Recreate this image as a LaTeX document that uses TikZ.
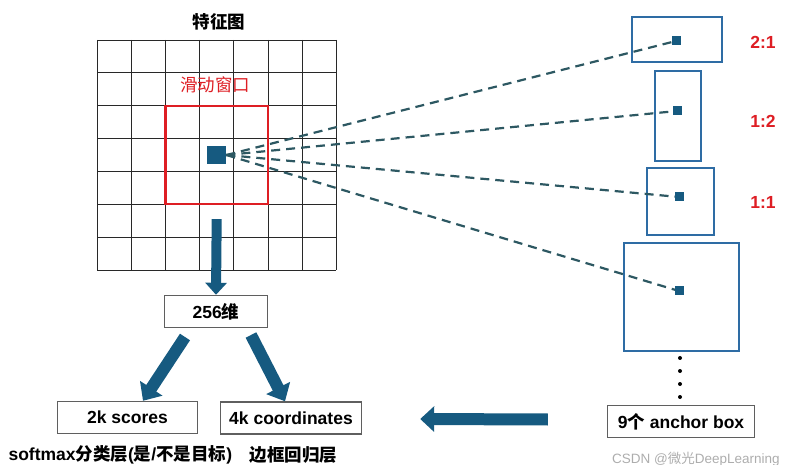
\documentclass[tikz,border=0pt]{standalone}
\usepackage{fontspec}
\setmainfont{Liberation Sans}
\newfontfamily\cjk{Noto Sans CJK SC}
\usepackage{tikz}
\usetikzlibrary{positioning}
\usetikzlibrary{arrows.meta}
\usetikzlibrary{calc}
\usepackage{xcolor}

\definecolor{arrowblue}{RGB}{22,90,128}
\definecolor{dashteal}{RGB}{45,88,98}
\definecolor{anchorblue}{RGB}{46,108,164}
\definecolor{ratiored}{RGB}{222,30,36}
\definecolor{boxgray}{RGB}{95,95,95}
\definecolor{gridgray}{RGB}{40,40,40}

\newcommand{\zh}[1]{{\cjk #1}}
\newcommand{\bigfont}{\fontsize{17.5}{20}\selectfont}

\begin{document}
\begin{tikzpicture}[
  x=1pt, y=-1pt,
  gridline/.style={draw=gridgray, line width=0.9pt},
  window/.style={draw=ratiored, line width=2.4pt},
  txtbox/.style={draw=boxgray, line width=1.4pt, fill=white, minimum height=32pt, inner sep=0pt, font=\bfseries\bigfont},
  anchorbox/.style={draw=anchorblue, line width=2.6pt, inner sep=0pt},
  centermark/.style={fill=arrowblue, inner sep=0pt, minimum size=9pt},
  ratio/.style={text=ratiored, font=\bfseries\bigfont},
  plain/.style={font=\bfseries\bigfont},
  fatarrow/.style={draw=arrowblue, line width=12pt},
  dashlink/.style={draw=dashteal, line width=2.2pt, dash pattern=on 9pt off 6pt},
  dot/.style={circle, fill=black, inner sep=0pt, minimum size=4pt}
]

\useasboundingbox (0,0) rectangle (804,465);

% Feature map: 7x7 grid with the sliding window
\node[plain] (title) at (219,22) {\zh{特征图}};
\begin{scope}[shift={(97,40)}, x=34.2pt, y=-32.86pt]
  \foreach \i in {0,...,7} {
    \draw[gridline] (\i,0) -- (\i,7);
    \draw[gridline] (0,\i) -- (7,\i);
  }
  \draw[window] (2,2) rectangle (5,5);
  \node[fill=arrowblue, inner sep=0pt, minimum width=19pt, minimum height=18pt] (ctr) at (3.5,3.5) {};
  \coordinate (dstart) at (3.5,5.45);
\end{scope}
\node[text=ratiored, font=\bigfont] (wlabel) at (215,85) {\zh{滑动窗口}};

% Anchor boxes with their ratios
\node[anchorbox, minimum width=90pt, minimum height=45pt] (b1) at (677,39.5) {};
\node[anchorbox, minimum width=46pt, minimum height=90pt] (b2) at (678,116) {};
\node[anchorbox, minimum width=67pt, minimum height=67pt] (b3) at (680.5,201.5) {};
\node[anchorbox, minimum width=115pt, minimum height=108pt] (b4) at (681.5,297) {};

\node[ratio] (r1) at (763,42) {2:1};
\node[ratio] (r2) at (763,121) {1:2};
\node[ratio] (r3) at (763,202) {1:1};

% Dashed links from the window centre to each anchor
\draw[dashlink] (ctr.east) -- (676,41) node[centermark] (a1) {};
\draw[dashlink] (ctr.east) -- (677,111) node[centermark] (a2) {};
\draw[dashlink] (ctr.east) -- (679,197) node[centermark] (a3) {};
\draw[dashlink] (ctr.east) -- (679,291) node[centermark] (a4) {};

% More anchors
\foreach \y in {358,371,384,397}
  \node[dot] at (680,\y) {};

% Boxes
\node[txtbox, minimum width=103pt] (dim) at (216,311.5) {256\zh{维}};
\node[txtbox, minimum width=140pt] (scores) at (127.5,417.5) {2k scores};
\node[txtbox, minimum width=141pt] (coords) at (291,418) {4k coordinates};
\node[txtbox, minimum width=147pt] (nine) at (681,421.5) {9\zh{个} anchor box};

\node[plain, anchor=west] (clslabel) at (5,455) {softmax\zh{分类层}(\zh{是}/\zh{不是目标})};
\node[plain, anchor=west] (reglabel) at (246,455) {\zh{边框回归层}};

% Fat arrows
\draw[fatarrow, line width=10pt, -{Triangle[width=21pt,length=12pt]}] (dstart) -- (dim.north);
\coordinate (lstart) at (185,337);
\coordinate (rstart) at (251,335);
\draw[fatarrow, -{Triangle[width=26pt,length=15pt]}] (lstart) -- (scores.north -| 143,0);
\draw[fatarrow, -{Triangle[width=26pt,length=15pt]}] (rstart) -- (coords.north -| 285,0);
\coordinate (hstart) at ($(nine.west)+(-59,-2)$);
\coordinate (hend) at ($(coords.east)+(58,1)$);
\draw[fatarrow, -{Triangle[width=25pt,length=14pt]}] (hstart) -- (hend);

% Watermark
\node[text=black!32, font=\fontsize{13.5}{15}\selectfont] (mark) at (696,459) {CSDN @\zh{微光}DeepLearning};

\end{tikzpicture}
\end{document}
